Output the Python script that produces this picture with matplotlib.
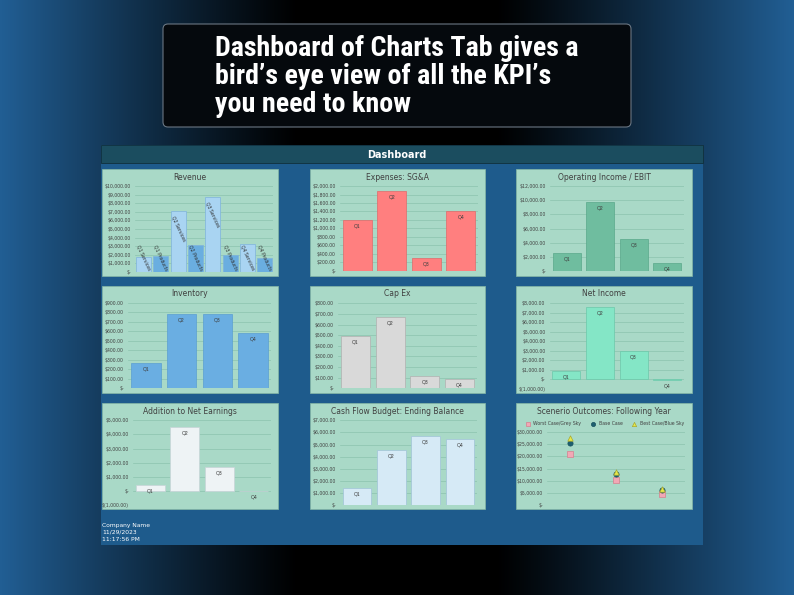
import matplotlib
matplotlib.use('Agg')
import matplotlib.pyplot as plt
import numpy as np
from matplotlib import font_manager
from matplotlib.patches import Rectangle, FancyBboxPatch
from matplotlib.ticker import FuncFormatter, MultipleLocator

W, H = 794, 595

# ---- data ----
quarters = ['Q1', 'Q2', 'Q3', 'Q4']
revenue_labels = ['Q1 Services', 'Q1 Products', 'Q2 Services', 'Q2 Products',
                  'Q3 Services', 'Q3 Products', 'Q4 Services', 'Q4 Products']
revenue = [1750, 1850, 7050, 3100, 8700, 2000, 3300, 1630]
expenses = [1190, 1890, 300, 1420]
ebit = [2560, 9760, 4570, 1210]
inventory = [268, 785, 785, 585]
capex = [495, 675, 120, 90]
net_income = [830, 7590, 2940, -60]
net_earnings = [450, 4500, 1700, -30]
cash_balance = [1430, 4570, 5700, 5480]
scenario_names = ['Worst Case/Grey Sky', 'Base Case', 'Best Case/Blue Sky']
worst = [21000, 10200, 4800]
base = [25500, 12800, 6200]
best = [27700, 13600, 6800]

TXT = '#404040'
PANEL = '#a9d9c7'
GRID = '#8cc3ae'

# narrow bold face for the headline, whichever is installed
installed = {f.name for f in font_manager.fontManager.ttflist}
head_font, head_size = 'DejaVu Sans', 14.5
for name, size in [('Roboto Condensed', 20.2), ('Liberation Sans Narrow', 19.5),
                   ('DejaVu Sans Condensed', 16.5), ('Roboto', 16.5)]:
    if name in installed:
        head_font, head_size = name, size
        break

fig = plt.figure(figsize=(W / 100, H / 100), dpi=100)

# background: black in the middle, blue to the sides
bg = fig.add_axes([0, 0, 1, 1])
xs = np.linspace(0, 1, 400)
t = np.clip((np.abs(xs - 0.5) * 2 - 0.25) / 0.75, 0, 1) ** 1.1
edge_blue = np.array([0.13, 0.37, 0.58])
grad = (t[:, None] * edge_blue)[None, :, :]
bg.imshow(grad, extent=[0, W, H, 0], aspect='auto', zorder=0)
bg.set_xlim(0, W)
bg.set_ylim(H, 0)
bg.axis('off')

# headline box
bg.add_patch(FancyBboxPatch((163, 24), 468, 103, boxstyle='round,pad=0,rounding_size=5',
                            fc='#05090d', ec='#6a7682', lw=0.8, zorder=1))
headline = ['Dashboard of Charts Tab gives a',
            'bird\u2019s eye view of all the KPI\u2019s',
            'you need to know']
for i, line in enumerate(headline):
    bg.text(215, 56 + i * 28, line, color='white', fontsize=head_size, fontweight='bold',
            family=[head_font, 'DejaVu Sans'], va='baseline', ha='left', zorder=2)

# dashboard body
bg.add_patch(Rectangle((101, 145), 602, 400, fc='#1e5b8c', ec='none', zorder=1))
bg.add_patch(Rectangle((101, 145), 602, 18, fc='#1b4d5f', ec='#10303c', lw=0.6, zorder=1))
bg.text(397, 155, 'Dashboard', color='white', fontsize=7, fontweight='bold',
        ha='center', va='center', zorder=2)
for i, s in enumerate(['Company Name', '11/29/2023', '11:17:56 PM']):
    bg.text(102, 525 + i * 7.2, s, color='white', fontsize=4.3, ha='left', va='center', zorder=2)

cols = [(102, 278), (310, 485), (516, 692)]
rows = [(169, 276), (286, 393), (403, 509)]
titles = [['Revenue', 'Expenses: SG&A', 'Operating Income / EBIT'],
          ['Inventory', 'Cap Ex', 'Net Income'],
          ['Addition to Net Earnings', 'Cash Flow Budget: Ending Balance',
           'Scenerio Outcomes: Following Year']]
for r, (y0, y1) in enumerate(rows):
    for c, (x0, x1) in enumerate(cols):
        bg.add_patch(Rectangle((x0, y0), x1 - x0, y1 - y0, fc=PANEL, ec='#86b8a6', lw=0.5, zorder=1))
        bg.text((x0 + x1) / 2, y0 + 8, titles[r][c], color=TXT, fontsize=5.5,
                ha='center', va='center', zorder=2)


def px_axes(x0, y0, x1, y1):
    return fig.add_axes([x0 / W, 1 - y1 / H, (x1 - x0) / W, (y1 - y0) / H])


def money(v, pos=None):
    if abs(v) < 1e-9:
        return '$-'
    if v < 0:
        return '$({:,.2f})'.format(-v)
    return '${:,.2f}'.format(v)


def style(ax, ymin, ymax, step):
    ax.set_ylim(ymin, ymax)
    ax.yaxis.set_major_locator(MultipleLocator(step))
    ax.yaxis.set_major_formatter(FuncFormatter(money))
    ax.tick_params(axis='y', length=0, labelsize=3.3, labelcolor=TXT, pad=3)
    ax.set_xticks([])
    for sp in ax.spines.values():
        sp.set_visible(False)
    ax.grid(axis='y', color=GRID, lw=0.5)
    ax.set_axisbelow(True)
    ax.patch.set_alpha(0)


def quarter_chart(box, values, color, edge, ymin, ymax, step):
    ax = px_axes(*box)
    ax.bar(range(len(values)), values, width=0.83, color=color, edgecolor=edge, linewidth=0.5)
    for i, v in enumerate(values):
        ax.annotate(quarters[i], (i, v), xytext=(0, -2.5), textcoords='offset points',
                    ha='center', va='top', fontsize=3.5, color=TXT)
    ax.set_xlim(-0.5, len(values) - 0.5)
    style(ax, ymin, ymax, step)
    return ax


# Revenue
ax = px_axes(135, 186, 273.5, 272)
rev_colors = ['#a9d4f2', '#6aaee0'] * 4
ax.bar(range(len(revenue)), revenue, width=0.87, color=rev_colors, edgecolor='#7fb3dc', linewidth=0.5)
for i, v in enumerate(revenue):
    ax.text(i, max(v - 400, 3300), revenue_labels[i], rotation=-65, ha='center', va='top',
            fontsize=3.3, color='#303030')
ax.set_xlim(-0.5, len(revenue) - 0.5)
style(ax, 0, 10000, 1000)

quarter_chart((340, 186, 478, 271), expenses, '#ff7f7f', '#e06a6a', 0, 2000, 200)
quarter_chart((550, 186, 684, 271.3), ebit, '#6fbd9f', '#5aa88a', 0, 12000, 2000)
quarter_chart((128, 303, 271, 388.3), inventory, '#6aaee2', '#5a9ed2', 0, 900, 100)
quarter_chart((338, 303.3, 477, 388.3), capex, '#d9d9d9', '#b0b0b0', 0, 800, 100)
quarter_chart((549.5, 303.3, 684, 388.7), net_income, '#84e6c6', '#6cc8aa', -1000, 8000, 1000)
quarter_chart((133, 420.3, 271, 505), net_earnings, '#eef3f5', '#c8d4d8', -1000, 5000, 1000)
quarter_chart((340, 420.3, 477, 505), cash_balance, '#d6eaf6', '#a0c4d8', 0, 7000, 1000)

# Scenario outcomes
ax = px_axes(547, 432, 685, 505.3)
xpos = np.arange(len(worst))
ax.scatter(xpos, worst, marker='s', s=14, c='#f2a7b5', edgecolors='#d4808f', linewidths=0.5,
           label=scenario_names[0], zorder=3)
ax.scatter(xpos, base, marker='o', s=14, c='#1f5f70', edgecolors='#17505e', linewidths=0.5,
           label=scenario_names[1], zorder=3)
ax.scatter(xpos, best, marker='^', s=15, c='#e6e84a', edgecolors='#a8a830', linewidths=0.5,
           label=scenario_names[2], zorder=3)
ax.set_xlim(-0.5, 2.5)
style(ax, 0, 30000, 5000)
ax.legend(loc='lower center', bbox_to_anchor=(0.41, 1.06), ncol=3, frameon=False,
          fontsize=3.3, handletextpad=0.2, columnspacing=1.6, borderaxespad=0,
          markerscale=0.8, labelcolor=TXT)

fig.savefig('out.png', dpi=100)
